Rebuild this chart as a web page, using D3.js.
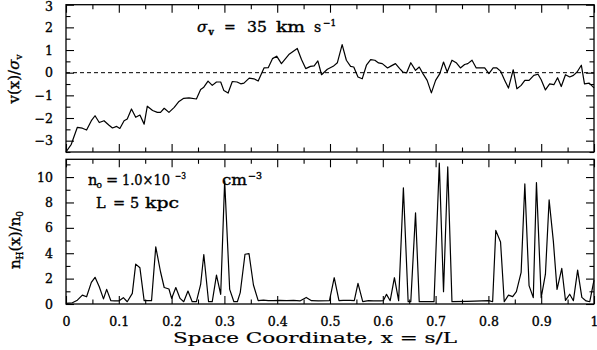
<!DOCTYPE html>
<html><head><meta charset="utf-8">
<script src="https://cdn.jsdelivr.net/npm/d3@7"></script>
<style>
body{margin:0;background:#fff}
svg text{font-family:"DejaVu Serif","Liberation Serif",serif;fill:#000;stroke:#000;stroke-width:0.35px}
</style></head>
<body><svg id="c" width="597" height="350"></svg>
<script>
// ---- data ----
const velX = [0,0.010,0.0215,0.031,0.039,0.048,0.055,0.063,0.072,0.081,0.088,0.096,0.102,0.110,0.116,0.124,0.132,0.140,0.148,0.154,0.164,0.173,0.179,0.186,0.195,0.205,0.214,0.223,0.233,0.247,0.255,0.261,0.269,0.277,0.285,0.293,0.299,0.307,0.315,0.324,0.331,0.337,0.347,0.356,0.364,0.375,0.383,0.391,0.399,0.408,0.422,0.438,0.446,0.454,0.463,0.470,0.477,0.484,0.495,0.506,0.514,0.523,0.531,0.539,0.545,0.553,0.561,0.569,0.577,0.585,0.592,0.599,0.609,0.616,0.624,0.632,0.638,0.645,0.653,0.662,0.669,0.676,0.684,0.692,0.700,0.708,0.715,0.722,0.731,0.739,0.747,0.755,0.761,0.769,0.777,0.785,0.793,0.801,0.809,0.816,0.823,0.831,0.838,0.847,0.854,0.862,0.869,0.877,0.886,0.894,0.900,0.908,0.916,0.924,0.931,0.938,0.946,0.954,0.961,0.968,0.976,0.982,0.991,1.0];
const velY = [-3.5,-3.16,-2.41,-2.45,-2.53,-2.12,-1.9,-2.2,-2.12,-2.31,-2.44,-2.37,-2.46,-2.12,-2.04,-1.6,-1.97,-1.87,-2.27,-1.48,-1.67,-1.75,-1.75,-1.57,-1.75,-1.53,-1.27,-1.13,-1.11,-1.16,-0.74,-0.64,-0.37,-0.56,-0.41,-0.41,-0.79,-0.9,-0.39,-0.41,-0.49,-0.46,-0.24,-0.27,-0.37,0.21,0.22,0.62,0.73,0.4,0.8,1.07,0.58,0.18,0.28,0.3,0.52,-0.09,0.15,0.28,0.44,1.24,0.55,0.28,0.25,-0.19,-0.27,0.33,0.58,0.55,0.43,0.40,0.21,0.30,0.40,0.18,0.03,-0.01,0.44,0.10,0.25,-0.04,-0.34,-0.89,-0.34,-0.04,0.47,0.03,0.55,0.44,0.21,0.36,0.40,0.55,0.21,0.21,0.21,-0.04,0.21,0.21,0.07,-0.34,-0.68,0.13,-0.71,-0.56,-0.34,-0.34,-0.12,-0.07,-0.31,-0.76,-0.49,-0.53,-0.22,-0.61,-0.09,-0.19,-0.12,0.03,0.33,-0.49,-0.46,-0.67];
const denX = [0,0.012,0.0215,0.031,0.039,0.048,0.055,0.063,0.071,0.077,0.085,0.092,0.100,0.1086,0.116,0.1256,0.132,0.140,0.148,0.155,0.162,0.170,0.179,0.186,0.195,0.200,0.208,0.216,0.223,0.231,0.239,0.247,0.255,0.261,0.270,0.277,0.285,0.293,0.3005,0.310,0.318,0.3245,0.330,0.339,0.3466,0.355,0.364,0.374,0.383,0.392,0.405,0.418,0.431,0.443,0.455,0.465,0.478,0.499,0.508,0.517,0.525,0.538,0.546,0.553,0.562,0.573,0.582,0.595,0.601,0.607,0.614,0.622,0.630,0.639,0.648,0.653,0.662,0.669,0.697,0.707,0.715,0.723,0.731,0.760,0.801,0.808,0.814,0.823,0.830,0.838,0.846,0.853,0.862,0.869,0.877,0.885,0.891,0.900,0.908,0.915,0.923,0.930,0.939,0.946,0.954,0.961,0.969,0.977,0.985,0.992,1.0];
const denY = [0.05,0.1,0.3,0.7,0.57,1.7,2.1,1.36,0.4,1.15,0.26,0.24,0.24,0.5,0.18,0.84,3.14,2.85,0.26,0.26,0.26,4.5,2.54,1.3,1.18,0.44,1.3,0.44,0.18,1.02,0.18,0.18,1.54,3.9,0.18,0.18,2.27,0.76,9.7,1.15,0.18,0.18,0.9,3.92,3.97,1.5,0.26,0.31,0.26,0.26,0.28,0.26,0.28,0.24,0.52,0.26,0.24,0.26,2.07,0.26,0.28,0.28,0.26,1.62,0.18,0.26,0.24,0.24,0.26,0.76,0.26,2.07,0.26,9.15,0.18,0.18,7.19,0.18,0.18,11.1,0.97,10.8,0.18,0.2,0.26,0.18,5.8,4.89,0.18,0.7,0.58,0.97,2.5,9.46,1.45,0.5,9.57,0.5,2.35,8.2,4.95,1.15,2.8,0.28,0.77,0.26,2.67,0.52,0.24,0.18,1.88];

const xMajor = [0,0.1,0.2,0.3,0.4,0.5,0.6,0.7,0.8,0.9,1];
const xMinor = [0.05,0.15,0.25,0.35,0.45,0.55,0.65,0.75,0.85,0.95];
const xTickLabels = ["0","0.1","0.2","0.3","0.4","0.5","0.6","0.7","0.8","0.9","1"];
const velMajor = [-3,-2,-1,0,1,2,3];
const velMinor = [-3.5,-2.5,-1.5,-0.5,0.5,1.5,2.5];
const denMajor = [0,2,4,6,8,10];
const denMinor = [1,3,5,7,9,11];

// ---- layout ----
const svg = d3.select("#c");
const L = 66, R = 594;
const x = d3.scaleLinear().domain([0,1]).range([L,R]);
const yV = d3.scaleLinear().domain([-3.5,3]).range([152,4.7]);
const yN = d3.scaleLinear().domain([0,11.4]).range([304,159.3]);
const MAJ = 8, MIN = 4.5;

function frame(y, yMaj, yMin, xLabels){
  const [b,t] = y.range();
  const g = svg.append("g");
  const mk = (axisFn, scale, vals, size, pos, labels) => {
    const a = axisFn(scale).tickValues(vals).tickSizeInner(-size).tickSizeOuter(0);
    if(labels) a.tickFormat((d,i)=>labels(d,i)).tickPadding(size+5); else a.tickFormat("");
    const gg = g.append("g").attr("transform",pos).call(a);
    gg.select(".domain").remove();
    gg.selectAll("line").attr("stroke","#000").attr("stroke-width",1.1);
    gg.selectAll("text").attr("font-size",12.5).attr("fill","#000").attr("font-family","DejaVu Serif");
    return gg;
  };
  mk(d3.axisBottom, x, xMajor, MAJ, `translate(0,${b})`, xLabels ? (d,i)=>xTickLabels[i] : null);
  mk(d3.axisBottom, x, xMinor, MIN, `translate(0,${b})`, null);
  mk(d3.axisTop, x, xMajor, MAJ, `translate(0,${t})`, null);
  mk(d3.axisTop, x, xMinor, MIN, `translate(0,${t})`, null);
  const ly = mk(d3.axisLeft, y, yMaj, MAJ, `translate(${L},0)`, d=>d3.format("")(d));
  ly.selectAll(".tick text").filter(d=>d===3).attr("dy","0.45em");
  mk(d3.axisLeft, y, yMin, MIN, `translate(${L},0)`, null);
  mk(d3.axisRight, y, yMaj, MAJ, `translate(${R},0)`, null);
  mk(d3.axisRight, y, yMin, MIN, `translate(${R},0)`, null);
  g.append("rect").attr("x",L).attr("y",t).attr("width",R-L).attr("height",b-t)
    .attr("fill","none").attr("stroke","#000").attr("stroke-width",1.3);
}

// top panel
frame(yV, velMajor, velMinor, false);
svg.append("line").attr("x1",x(0)).attr("x2",x(1)).attr("y1",yV(0)).attr("y2",yV(0))
  .attr("stroke","#000").attr("stroke-width",1).attr("stroke-dasharray","4,3");
const lineV = d3.line().x((d,i)=>x(velX[i])).y(d=>yV(d));
svg.append("path").attr("d",lineV(velY)).attr("fill","none").attr("stroke","#000").attr("stroke-width",1.2).attr("stroke-linejoin","round");

// bottom panel
frame(yN, denMajor, denMinor, true);
const lineN = d3.line().x((d,i)=>x(denX[i])).y(d=>yN(d));
svg.append("path").attr("d",lineN(denY)).attr("fill","none").attr("stroke","#000").attr("stroke-width",1.2).attr("stroke-linejoin","round");

// annotations
function txt(xp, yp, s, size, opts={}){
  const t = svg.append("text").attr("x",xp).attr("y",yp).attr("font-size",size).text(s);
  if(opts.italic) t.attr("font-style","italic");
  if(opts.len) t.attr("textLength",opts.len).attr("lengthAdjust","spacingAndGlyphs");
  if(opts.weight) t.attr("font-weight",opts.weight);
  return t;
}
// sigma_v = 35 km s^-1
txt(197, 32, "σ", 15, {italic:true});
txt(208.5, 35, "v", 9, {weight:"bold"});
txt(224, 32, "=", 14);
txt(247, 32, "35", 14, {len:20});
txt(276, 32, "km", 14, {len:29});
txt(314, 32, "s", 14);
txt(323, 26, "−1", 9, {len:13});

// n0 = 1.0x10^-3 cm^-3
txt(88, 185, "n", 14.5);
txt(96.5, 188, "o", 9);
txt(106, 185, "=", 14.5);
txt(122, 185, "1.0×10", 14.5, {len:48});
txt(175, 179, "−3", 9, {len:11});
txt(222, 185, "cm", 14.5, {len:25});
txt(248, 179, "−3", 9, {len:14});
// L = 5 kpc
txt(96, 208, "L", 14.5);
txt(113, 208, "=", 14.5);
txt(130, 208, "5", 14.5);
txt(145, 208, "kpc", 14.5, {len:34});

// axis titles
const yl1 = svg.append("text").attr("transform","translate(19,79) rotate(-90)").attr("text-anchor","middle").attr("font-size",15);
yl1.append("tspan").text("v(x)/");
yl1.append("tspan").attr("font-style","italic").text("σ");
yl1.append("tspan").attr("font-size",9).attr("dy",3).text("v");

const yl2 = svg.append("text").attr("transform","translate(20,240) rotate(-90)").attr("text-anchor","middle").attr("font-size",15);
yl2.append("tspan").text("n");
yl2.append("tspan").attr("font-size",9).attr("dy",3).text("H");
yl2.append("tspan").attr("dy",-3).text("(x)/n");
yl2.append("tspan").attr("font-size",9).attr("dy",3).text("0");

txt(173, 343, "Space Coordinate, x = s/L", 15, {len:284}).style("stroke-width","0.2px");
</script></body></html>
